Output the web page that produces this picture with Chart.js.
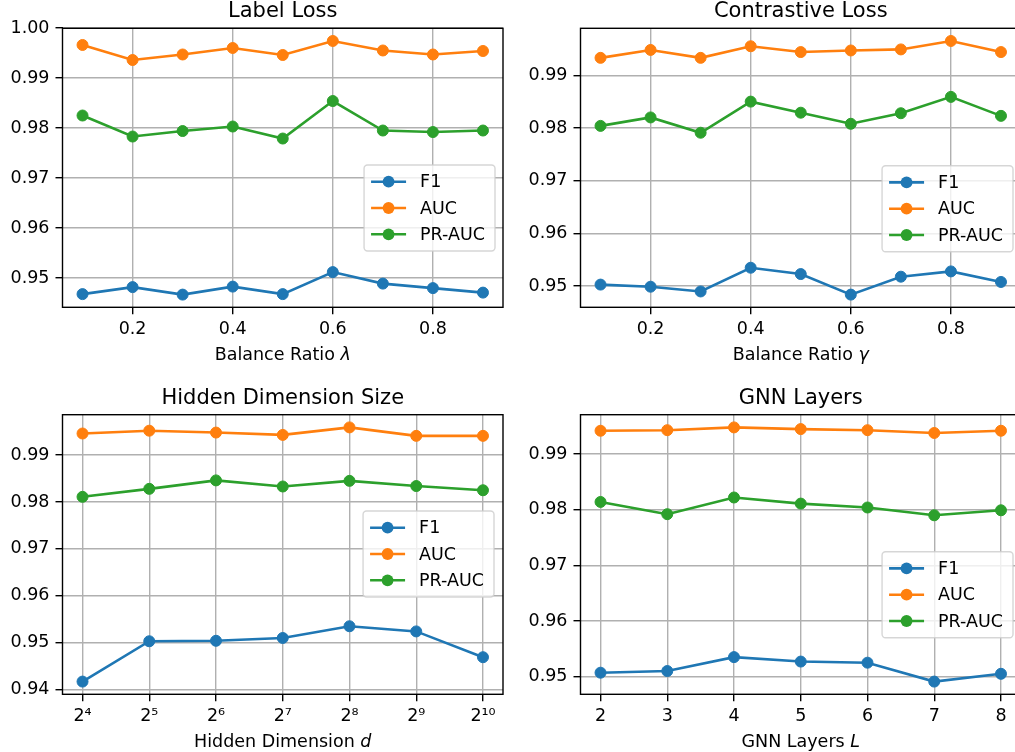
<!DOCTYPE html>
<html><head><meta charset="utf-8">
<script src="https://cdn.jsdelivr.net/npm/chart.js@4.4.1/dist/chart.umd.min.js"></script>
<style>
html,body{margin:0;padding:0;background:#fff;overflow:hidden;width:1015px;height:752px;position:relative}
canvas{position:absolute}
</style></head><body>
<canvas id="c0"></canvas><canvas id="c1"></canvas><canvas id="c2"></canvas><canvas id="c3"></canvas>
<script>
// ---------------- data ----------------
const seriesNames = ['F1', 'AUC', 'PR-AUC'];

const ratioValues = [0.1, 0.2, 0.3, 0.4, 0.5, 0.6, 0.7, 0.8, 0.9];
const ratioTicks = [0.2, 0.4, 0.6, 0.8];
const ratioTickLabels = ['0.2', '0.4', '0.6', '0.8'];

const labelLossF1    = [0.9468, 0.9482, 0.9467, 0.9483, 0.9468, 0.9512, 0.9489, 0.9480, 0.9471];
const labelLossAUC   = [0.9966, 0.9936, 0.9947, 0.9960, 0.9946, 0.9974, 0.9955, 0.9947, 0.9954];
const labelLossPRAUC = [0.9825, 0.9783, 0.9794, 0.9803, 0.9779, 0.9854, 0.9795, 0.9792, 0.9795];

const contrastF1    = [0.9503, 0.9499, 0.9490, 0.9535, 0.9523, 0.9484, 0.9518, 0.9528, 0.9508];
const contrastAUC   = [0.9933, 0.9948, 0.9933, 0.9955, 0.9944, 0.9947, 0.9949, 0.9965, 0.9944];
const contrastPRAUC = [0.9804, 0.9820, 0.9791, 0.9850, 0.9829, 0.9808, 0.9828, 0.9859, 0.9823];

const hiddenDims = [16, 32, 64, 128, 256, 512, 1024];
const hiddenTickLabels = ['2\u2074', '2\u2075', '2\u2076', '2\u2077', '2\u2078', '2\u2079', '2\u00B9\u2070'];
const hiddenF1    = [0.9417, 0.9503, 0.9504, 0.9510, 0.9535, 0.9524, 0.9469];
const hiddenAUC   = [0.9946, 0.9952, 0.9948, 0.9943, 0.9959, 0.9941, 0.9941];
const hiddenPRAUC = [0.9811, 0.9828, 0.9846, 0.9833, 0.9845, 0.9834, 0.9825];

const gnnLayers = [2, 3, 4, 5, 6, 7, 8];
const gnnTickLabels = ['2', '3', '4', '5', '6', '7', '8'];
const layersF1    = [0.9507, 0.9510, 0.9535, 0.9527, 0.9525, 0.9491, 0.9505];
const layersAUC   = [0.9942, 0.9943, 0.9948, 0.9945, 0.9943, 0.9938, 0.9942];
const layersPRAUC = [0.9814, 0.9792, 0.9822, 0.9811, 0.9804, 0.9790, 0.9799];

const yTicksLabelLoss = [0.95, 0.96, 0.97, 0.98, 0.99, 1.00];
const yTicksContrast  = [0.95, 0.96, 0.97, 0.98, 0.99];
const yTicksHidden    = [0.94, 0.95, 0.96, 0.97, 0.98, 0.99];
const yTicksLayers    = [0.95, 0.96, 0.97, 0.98, 0.99];

// ---------------- style ----------------
const colors = ['#1f77b4', '#ff7f0e', '#2ca02c'];
const FONT = '"DejaVu Sans", "Liberation Sans", sans-serif';
const FS = 17.5;

const panels = [
  {id:'c0', left:0, top:0, w:510, h:372, padTop:28.3, padRight:7, yW:62.5, xH:64.7,
   title:'Label Loss', xlabel:['Balance Ratio ', '\u03BB'], xlabelGap:52.7, titleGap:11,
   legendRight:8, legendTop:136.7, xType:'linear', xs:ratioValues, xTicks:ratioTicks, xTickLabels:ratioTickLabels,
   yTicks:yTicksLabelLoss, ys:[labelLossF1, labelLossAUC, labelLossPRAUC]},
  {id:'c1', left:510, top:0, w:520, h:372, padTop:28.3, padRight:9, yW:70.5, xH:64.7,
   title:'Contrastive Loss', xlabel:['Balance Ratio ', '\u03B3'], xlabelGap:52.7, titleGap:11,
   legendRight:8, legendTop:137.4, xType:'linear', xs:ratioValues, xTicks:ratioTicks, xTickLabels:ratioTickLabels,
   yTicks:yTicksContrast, ys:[contrastF1, contrastAUC, contrastPRAUC]},
  {id:'c2', left:0, top:376, w:510, h:376, padTop:38.7, padRight:7, yW:62.5, xH:57.7,
   title:'Hidden Dimension Size', xlabel:['Hidden Dimension ', 'd'], xlabelGap:52.5, titleGap:11,
   legendRight:9, legendTop:96.3, xType:'logarithmic', xs:hiddenDims, xTicks:hiddenDims, xTickLabels:hiddenTickLabels,
   yTicks:yTicksHidden, ys:[hiddenF1, hiddenAUC, hiddenPRAUC]},
  {id:'c3', left:510, top:376, w:520, h:376, padTop:38.7, padRight:9, yW:70.5, xH:57.7,
   title:'GNN Layers', xlabel:['GNN Layers ', 'L'], xlabelGap:52.5, titleGap:11,
   legendRight:8, legendTop:137, xType:'linear', xs:gnnLayers, xTicks:gnnLayers, xTickLabels:gnnTickLabels,
   yTicks:yTicksLayers, ys:[layersF1, layersAUC, layersPRAUC]}
];

const figPlugin = {
  id: 'fig',
  afterDatasetsDraw(chart, args, o) {
    const ctx = chart.ctx, a = chart.chartArea;
    ctx.save();
    // spines
    ctx.strokeStyle = '#000'; ctx.lineWidth = 1.4;
    ctx.strokeRect(a.left, a.top, a.right - a.left, a.bottom - a.top);
    // legend
    ctx.font = FS + 'px ' + FONT;
    const labels = chart.data.datasets.map(d => d.label);
    const tw = Math.max(...labels.map(l => ctx.measureText(l).width));
    const pad = 7, handle = 35, htp = 14;
    const w = pad + handle + htp + tw + pad + 3, h = 86;
    const x0 = a.right - o.legendRight - w, y0 = a.top + o.legendTop;
    ctx.beginPath();
    ctx.roundRect(x0, y0, w, h, 3.5);
    ctx.fillStyle = 'rgba(255,255,255,0.8)'; ctx.fill();
    ctx.strokeStyle = 'rgba(204,204,204,0.8)'; ctx.lineWidth = 1.4; ctx.stroke();
    chart.data.datasets.forEach((d, i) => {
      const ry = y0 + 16.7 + i * 26.3;
      ctx.strokeStyle = d.borderColor; ctx.lineWidth = 2.6;
      ctx.beginPath(); ctx.moveTo(x0 + pad, ry); ctx.lineTo(x0 + pad + handle, ry); ctx.stroke();
      ctx.fillStyle = d.borderColor;
      ctx.beginPath(); ctx.arc(x0 + pad + handle / 2, ry, 5.9, 0, Math.PI * 2); ctx.fill();
      ctx.fillStyle = '#000'; ctx.textAlign = 'left'; ctx.textBaseline = 'middle';
      ctx.fillText(d.label, x0 + pad + handle + htp, ry + 1);
    });
    // title
    ctx.fillStyle = '#000';
    ctx.font = '21px ' + FONT; ctx.textAlign = 'center'; ctx.textBaseline = 'alphabetic';
    ctx.fillText(o.title, (a.left + a.right) / 2, a.top - o.titleGap);
    // x label (normal + italic part)
    const fN = FS + 'px ' + FONT, fI = 'italic ' + FS + 'px ' + FONT;
    ctx.font = fN; const w1 = ctx.measureText(o.xlabel[0]).width;
    ctx.font = fI; const w2 = ctx.measureText(o.xlabel[1]).width;
    const sx = (a.left + a.right) / 2 - (w1 + w2) / 2, by = a.bottom + o.xlabelGap;
    ctx.textAlign = 'left';
    ctx.font = fN; ctx.fillText(o.xlabel[0], sx, by);
    ctx.font = fI; ctx.fillText(o.xlabel[1], sx + w1, by);
    ctx.restore();
  }
};

function margins(vals, log) {
  const v = log ? vals.map(Math.log2) : vals;
  const lo = Math.min(...v), hi = Math.max(...v), m = (hi - lo) * 0.05;
  return log ? [Math.pow(2, lo - m), Math.pow(2, hi + m)] : [lo - m, hi + m];
}

panels.forEach(p => {
  const cv = document.getElementById(p.id);
  cv.width = p.w; cv.height = p.h;
  cv.style.left = p.left + 'px'; cv.style.top = p.top + 'px';
  const [xmin, xmax] = margins(p.xs, p.xType === 'logarithmic');
  const [ymin, ymax] = margins([].concat(...p.ys), false);
  new Chart(cv, {
    type: 'line',
    data: {
      datasets: seriesNames.map((n, i) => ({
        label: n,
        data: p.xs.map((x, j) => ({x: x, y: p.ys[i][j]})),
        borderColor: colors[i], backgroundColor: colors[i],
        pointBackgroundColor: colors[i], pointBorderColor: colors[i],
        borderWidth: 2.6, pointRadius: 5.5, pointBorderWidth: 1, tension: 0, fill: false
      }))
    },
    options: {
      responsive: false, animation: false, devicePixelRatio: 1, events: [],
      layout: {padding: {top: p.padTop, right: p.padRight, left: 0, bottom: 0}},
      plugins: {legend: {display: false}, tooltip: {enabled: false}, title: {display: false},
                fig: {title: p.title, xlabel: p.xlabel, xlabelGap: p.xlabelGap, titleGap: p.titleGap,
                      legendRight: p.legendRight, legendTop: p.legendTop}},
      scales: {
        x: {
          type: p.xType, min: xmin, max: xmax, position: 'bottom',
          afterBuildTicks: s => { s.ticks = p.xTicks.map(v => ({value: v})); },
          afterFit: s => { s.height = p.xH; },
          grid: {color: '#b0b0b0', lineWidth: 1.4, drawTicks: true, tickLength: 7, tickColor: '#000', tickWidth: 1.4},
          border: {display: false},
          ticks: {autoSkip: false, maxRotation: 0, color: '#000', padding: 5,
                  font: {family: FONT, size: FS},
                  callback: (v, i) => p.xTickLabels[i]}
        },
        y: {
          type: 'linear', min: ymin, max: ymax, position: 'left',
          afterBuildTicks: s => { s.ticks = p.yTicks.map(v => ({value: v})); },
          afterFit: s => { s.width = p.yW; },
          grid: {color: '#b0b0b0', lineWidth: 1.4, drawTicks: true, tickLength: 7, tickColor: '#000', tickWidth: 1.4},
          border: {display: false},
          ticks: {autoSkip: false, color: '#000', padding: 6,
                  font: {family: FONT, size: FS},
                  callback: (v, i) => p.yTicks[i].toFixed(2)}
        }
      }
    },
    plugins: [figPlugin]
  });
});
</script>
</body></html>
